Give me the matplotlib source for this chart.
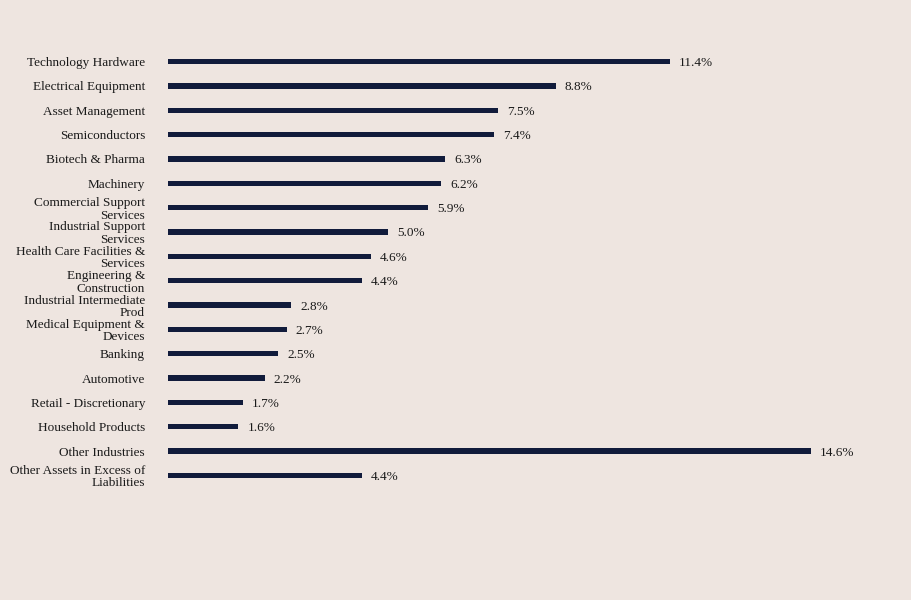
import matplotlib
matplotlib.use("Agg")
import matplotlib.pyplot as plt

categories = [
    "Technology Hardware",
    "Electrical Equipment",
    "Asset Management",
    "Semiconductors",
    "Biotech & Pharma",
    "Machinery",
    "Commercial Support\nServices",
    "Industrial Support\nServices",
    "Health Care Facilities &\nServices",
    "Engineering &\nConstruction",
    "Industrial Intermediate\nProd",
    "Medical Equipment &\nDevices",
    "Banking",
    "Automotive",
    "Retail - Discretionary",
    "Household Products",
    "Other Industries",
    "Other Assets in Excess of\nLiabilities",
]
values = [11.4, 8.8, 7.5, 7.4, 6.3, 6.2, 5.9, 5.0, 4.6, 4.4, 2.8, 2.7, 2.5, 2.2, 1.7, 1.6, 14.6, 4.4]

BG = "#EEE5E0"
BAR = "#111B3B"

plt.rcParams["font.family"] = ["Liberation Serif", "DejaVu Serif"]

fig = plt.figure(figsize=(9.12, 6.0), dpi=100, facecolor=BG)
ax = fig.add_axes([168 / 912, 1 - 487.7 / 600, (16 * 44.04) / 912, (487.7 - 49.3) / 600])
ax.set_facecolor(BG)

y = list(range(len(categories)))
ax.barh(y, values, height=0.22, color=BAR)
ax.set_xlim(0, 16)
ax.set_ylim(len(categories) - 0.5, -0.5)

ax.set_yticks(y)
ax.set_yticklabels(categories, fontsize=9.5, linespacing=1.05, color="#1a1a1a")
ax.tick_params(axis="y", length=0, pad=16.5)
ax.set_xticks([])
for s in ax.spines.values():
    s.set_visible(False)

for yi, v in zip(y, values):
    ax.annotate(f"{v:.1f}%", xy=(v, yi), xytext=(6.5, 0), textcoords="offset points",
                va="center_baseline", ha="left", fontsize=9.5, color="#1a1a1a")

fig.savefig("out.png", dpi=100, facecolor=BG)
